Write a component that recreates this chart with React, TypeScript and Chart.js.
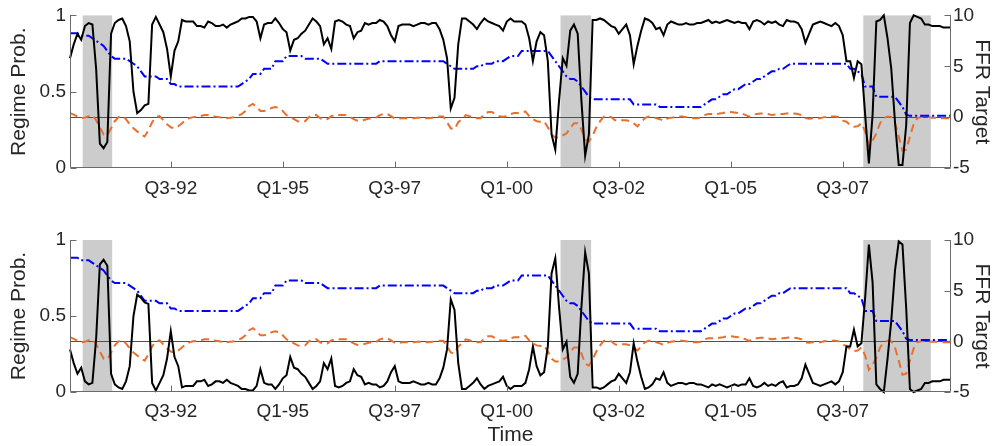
import React, { useEffect, useRef } from 'react';
import { Chart, registerables } from 'chart.js';

Chart.register(...registerables);

// Monthly observations, index 0 = April 1990, last = December 2009.

// Probability of regime 1 (upper panel)
const probRegime1 = [
  0.72, 0.81, 0.88, 0.84, 0.93, 0.95, 0.94, 0.65, 0.16, 0.13,
  0.17, 0.88, 0.95, 0.97, 0.98, 0.93, 0.83, 0.50, 0.36, 0.38,
  0.41, 0.42, 0.94, 0.99, 0.94, 0.89, 0.78, 0.60, 0.77, 0.83,
  0.97, 0.96, 0.96, 0.96, 0.93, 0.93, 0.92, 0.96, 0.95, 0.93,
  0.93, 0.94, 0.92, 0.94, 0.95, 0.96, 0.98, 0.98, 0.99, 0.99,
  0.96, 0.85, 0.94, 0.95, 0.95, 0.98, 0.95, 0.91, 0.89, 0.77,
  0.84, 0.85, 0.88, 0.90, 0.94, 0.98, 0.96, 0.93, 0.81, 0.85,
  0.78, 0.96, 0.97, 0.96, 0.94, 0.93, 0.85, 0.89, 0.90, 0.95,
  0.94, 0.95, 0.95, 0.97, 0.96, 0.93, 0.87, 0.83, 0.93, 0.94,
  0.94, 0.94, 0.93, 0.94, 0.95, 0.95, 0.94, 0.95, 0.95, 0.91,
  0.84, 0.72, 0.39, 0.46, 0.81, 0.98, 0.98, 0.96, 0.94, 0.91,
  0.95, 0.98, 0.96, 0.95, 0.94, 0.93, 0.90, 0.96, 0.98, 0.96,
  0.96, 0.96, 0.94, 0.85, 0.70, 0.83, 0.89, 0.87, 0.70, 0.22,
  0.12, 0.44, 0.72, 0.67, 0.90, 0.94, 0.88, 0.44, 0.08, 0.22,
  0.97, 0.97, 0.98, 0.97, 0.95, 0.93, 0.92, 0.88, 0.91, 0.94,
  0.87, 0.68, 0.80, 0.90, 0.98, 0.97, 0.95, 0.91, 0.92, 0.87,
  0.94, 0.96, 0.95, 0.94, 0.94, 0.95, 0.94, 0.94, 0.95, 0.95,
  0.96, 0.97, 0.95, 0.96, 0.95, 0.96, 0.97, 0.96, 0.95, 0.96,
  0.95, 0.95, 0.91, 0.96, 0.97, 0.96, 0.94, 0.96, 0.95, 0.96,
  0.94, 0.93, 0.97, 0.96, 0.96, 0.95, 0.91, 0.82, 0.88, 0.94,
  0.95, 0.96, 0.95, 0.94, 0.93, 0.95, 0.93, 0.87, 0.70, 0.70,
  0.59, 0.70, 0.68, 0.35, 0.03, 0.35, 0.96, 0.97, 1.00, 0.85,
  0.65, 0.30, 0.02, 0.02, 0.28, 0.95, 1.00, 0.99, 0.98, 0.94,
  0.94, 0.93, 0.93, 0.93, 0.92, 0.92, 0.92,
];

// Probability of regime 2 (lower panel)
const probRegime2 = [
  0.28, 0.19, 0.12, 0.16, 0.07, 0.05, 0.06, 0.35, 0.84, 0.87,
  0.83, 0.12, 0.05, 0.03, 0.02, 0.07, 0.17, 0.50, 0.64, 0.62,
  0.59, 0.58, 0.06, 0.01, 0.06, 0.11, 0.22, 0.40, 0.23, 0.17,
  0.03, 0.04, 0.04, 0.04, 0.07, 0.07, 0.08, 0.04, 0.05, 0.07,
  0.07, 0.06, 0.08, 0.06, 0.05, 0.04, 0.02, 0.02, 0.01, 0.01,
  0.04, 0.15, 0.06, 0.05, 0.05, 0.02, 0.05, 0.09, 0.11, 0.23,
  0.16, 0.15, 0.12, 0.10, 0.06, 0.02, 0.04, 0.07, 0.19, 0.15,
  0.22, 0.04, 0.03, 0.04, 0.06, 0.07, 0.15, 0.11, 0.10, 0.05,
  0.06, 0.05, 0.05, 0.03, 0.04, 0.07, 0.13, 0.17, 0.07, 0.06,
  0.06, 0.06, 0.07, 0.06, 0.05, 0.05, 0.06, 0.05, 0.05, 0.09,
  0.16, 0.28, 0.61, 0.54, 0.19, 0.02, 0.02, 0.04, 0.06, 0.09,
  0.05, 0.02, 0.04, 0.05, 0.06, 0.07, 0.10, 0.04, 0.02, 0.04,
  0.04, 0.04, 0.06, 0.15, 0.30, 0.17, 0.11, 0.13, 0.30, 0.78,
  0.88, 0.56, 0.28, 0.33, 0.10, 0.06, 0.12, 0.56, 0.92, 0.78,
  0.03, 0.03, 0.02, 0.03, 0.05, 0.07, 0.08, 0.12, 0.09, 0.06,
  0.13, 0.32, 0.20, 0.10, 0.02, 0.03, 0.05, 0.09, 0.08, 0.13,
  0.06, 0.04, 0.05, 0.06, 0.06, 0.05, 0.06, 0.06, 0.05, 0.05,
  0.04, 0.03, 0.05, 0.04, 0.05, 0.04, 0.03, 0.04, 0.05, 0.04,
  0.05, 0.05, 0.09, 0.04, 0.03, 0.04, 0.06, 0.04, 0.05, 0.04,
  0.06, 0.07, 0.03, 0.04, 0.04, 0.05, 0.09, 0.18, 0.12, 0.06,
  0.05, 0.04, 0.05, 0.06, 0.07, 0.05, 0.07, 0.13, 0.30, 0.30,
  0.41, 0.30, 0.32, 0.62, 0.97, 0.72, 0.05, 0.02, 0.00, 0.22,
  0.47, 0.80, 0.99, 0.97, 0.55, 0.02, 0.00, 0.01, 0.02, 0.06,
  0.06, 0.07, 0.07, 0.07, 0.08, 0.08, 0.08,
];

// Federal funds rate target, percent
const ffrTarget = [
  8.25, 8.25, 8.25, 8.0, 8.0, 8.0, 7.75, 7.5, 7.25, 7.0,
  6.5, 6.0, 5.75, 5.75, 5.75, 5.75, 5.5, 5.25, 5.0, 4.5,
  4.0, 4.0, 4.0, 4.0, 3.75, 3.75, 3.75, 3.25, 3.25, 3.0,
  3.0, 3.0, 3.0, 3.0, 3.0, 3.0, 3.0, 3.0, 3.0, 3.0,
  3.0, 3.0, 3.0, 3.0, 3.0, 3.0, 3.25, 3.5, 3.75, 4.25,
  4.25, 4.25, 4.75, 4.75, 4.75, 5.5, 5.5, 5.5, 6.0, 6.0,
  6.0, 6.0, 6.0, 5.75, 5.75, 5.75, 5.75, 5.75, 5.5, 5.25,
  5.25, 5.25, 5.25, 5.25, 5.25, 5.25, 5.25, 5.25, 5.25, 5.25,
  5.25, 5.25, 5.25, 5.5, 5.5, 5.5, 5.5, 5.5, 5.5, 5.5,
  5.5, 5.5, 5.5, 5.5, 5.5, 5.5, 5.5, 5.5, 5.5, 5.5,
  5.5, 5.25, 5.0, 4.75, 4.75, 4.75, 4.75, 4.75, 4.75, 5.0,
  5.0, 5.25, 5.25, 5.25, 5.5, 5.5, 5.5, 5.75, 6.0, 6.0,
  6.0, 6.5, 6.5, 6.5, 6.5, 6.5, 6.5, 6.5, 6.5, 6.0,
  5.5, 5.0, 4.5, 4.0, 3.75, 3.75, 3.5, 3.0, 2.5, 2.0,
  1.75, 1.75, 1.75, 1.75, 1.75, 1.75, 1.75, 1.75, 1.75, 1.75,
  1.75, 1.25, 1.25, 1.25, 1.25, 1.25, 1.25, 1.25, 1.0, 1.0,
  1.0, 1.0, 1.0, 1.0, 1.0, 1.0, 1.0, 1.0, 1.0, 1.0,
  1.25, 1.5, 1.75, 1.75, 2.0, 2.25, 2.25, 2.5, 2.75, 2.75,
  3.0, 3.25, 3.25, 3.5, 3.75, 3.75, 4.0, 4.25, 4.5, 4.5,
  4.75, 4.75, 5.0, 5.25, 5.25, 5.25, 5.25, 5.25, 5.25, 5.25,
  5.25, 5.25, 5.25, 5.25, 5.25, 5.25, 5.25, 5.25, 5.25, 4.75,
  4.75, 4.5, 4.25, 3.0, 3.0, 3.0, 2.0, 2.0, 2.0, 2.0,
  2.0, 2.0, 1.5, 1.0, 0.25, 0.125, 0.125, 0.125, 0.125, 0.125,
  0.125, 0.125, 0.125, 0.125, 0.125, 0.125, 0.125,
];

// Deviation of the funds rate from its rule-implied path, percentage points
const ffrDeviation = [
  0.4, 0.25, 0.05, -0.1, -0.05, 0.1, 0.2, -0.3, -1.0, -1.7,
  -1.8, -1.1, -0.4, 0.0, 0.1, -0.2, -0.7, -1.1, -1.4, -1.7,
  -1.9, -1.3, -0.5, 0.0, 0.1, -0.3, -0.7, -1.0, -1.1, -0.9,
  -0.6, -0.3, -0.1, 0.0, 0.05, 0.1, 0.2, 0.2, 0.1, 0.05,
  0.0, -0.1, -0.1, -0.05, 0.0, 0.15, 0.3, 0.6, 1.1, 1.3,
  1.0, 0.6, 0.6, 0.7, 0.9, 1.0, 0.9, 0.6, 0.2, 0.0,
  -0.2, -0.4, -0.45, -0.4, 0.0, 0.2, 0.2, -0.1, -0.25, -0.2,
  0.1, 0.2, 0.2, 0.2, 0.2, 0.0, -0.2, -0.35, -0.35, -0.25,
  -0.15, -0.1, -0.05, 0.2, 0.3, 0.3, 0.1, -0.15, -0.15, -0.1,
  -0.1, -0.1, -0.1, -0.05, -0.05, -0.1, -0.1, -0.05, 0.0, 0.05,
  0.05, -0.5, -1.1, -1.2, -0.5, -0.2, 0.2, 0.1, -0.05, -0.1,
  -0.1, 0.3, 0.5, 0.5, 0.3, 0.1, 0.05, 0.1, 0.3, 0.4,
  0.4, 0.5, 0.55, 0.1, -0.2, -0.4, -0.45, -0.4, -1.0, -1.7,
  -2.0, -2.0, -1.8, -1.6, -1.1, -0.6, -0.6, -1.2, -2.2, -2.4,
  -1.8, -1.0, -0.4, 0.05, 0.1, 0.0, -0.3, -0.35, -0.3, -0.3,
  -0.4, -0.6, -0.9, -0.5, -0.1, 0.05, 0.0, -0.1, -0.2, -0.35,
  -0.15, -0.05, 0.0, 0.05, 0.05, 0.0, -0.05, -0.1, -0.1, -0.05,
  0.2, 0.3, 0.3, 0.3, 0.35, 0.4, 0.5, 0.5, 0.45, 0.4,
  0.35, 0.2, 0.05, 0.25, 0.3, 0.35, 0.35, 0.3, 0.2, 0.25,
  0.3, 0.3, 0.35, 0.4, 0.35, 0.3, 0.2, -0.1, -0.15, -0.1,
  -0.1, -0.1, 0.0, 0.05, 0.05, 0.05, 0.0, -0.35, -0.45, -0.8,
  -0.95, -0.9, -0.6, -1.4, -2.8, -2.3, -1.6, -0.6, -0.1, 0.05,
  0.0, -0.6, -1.9, -3.3, -3.2, -1.9, -0.7, -0.1, 0.0, 0.05,
  0.0, -0.05, -0.05, -0.1, -0.1, -0.1, -0.1,
];

// Axis ticks (month index) and their labels
const tickMonths = [27, 57, 87, 117, 147, 177, 207];
const tickLabels = ['Q3-92', 'Q1-95', 'Q3-97', 'Q1-00', 'Q3-02', 'Q1-05', 'Q3-07'];

// NBER recessions, month index (fractional)
const recessionStart = [3.4, 131.4, 212.5];
const recessionEnd = [11.3, 139.6, 230.6];

const FONT = "'Liberation Sans', Arial, Helvetica, sans-serif";
const TEXT = '#262626';
const AXIS = '#6b6b6b';
const TICK_FONT = { family: FONT, size: 19, lineHeight: 1.2 };
const TITLE_FONT = { family: FONT, size: 21, lineHeight: 1 };

const toPoints = (vals: number[]) => vals.map((v, i) => ({ x: i, y: v }));

const panelDecor = {
  id: 'panelDecor',
  beforeDatasetsDraw(chart: any) {
    const { ctx, chartArea, scales } = chart;
    const { left, right, top, bottom } = chartArea;
    ctx.save();
    ctx.fillStyle = '#cccccc';
    recessionStart.forEach((s, k) => {
      const x0 = scales.x.getPixelForValue(s);
      const x1 = scales.x.getPixelForValue(recessionEnd[k]);
      ctx.fillRect(x0, top, x1 - x0, bottom - top);
    });
    const z = Math.round(scales.y2.getPixelForValue(0)) + 0.5;
    ctx.strokeStyle = '#505050';
    ctx.lineWidth = 1;
    ctx.beginPath();
    ctx.moveTo(left, z);
    ctx.lineTo(right, z);
    ctx.stroke();
    ctx.restore();
  },
  afterDatasetsDraw(chart: any) {
    const { ctx, chartArea, scales } = chart;
    const { left, right, top, bottom } = chartArea;
    const L = Math.round(left) + 0.5;
    const R = Math.round(right) - 0.5;
    const B = Math.round(bottom) - 0.5;
    const T = Math.round(top);
    const len = 6;
    ctx.save();
    ctx.strokeStyle = AXIS;
    ctx.lineWidth = 1;
    ctx.beginPath();
    ctx.moveTo(L, T);
    ctx.lineTo(L, B);
    ctx.lineTo(R, B);
    ctx.lineTo(R, T);
    tickMonths.forEach((m) => {
      const px = Math.round(scales.x.getPixelForValue(m)) + 0.5;
      ctx.moveTo(px, B);
      ctx.lineTo(px, B - len);
    });
    scales.y.ticks.forEach((t: any) => {
      const py = Math.round(scales.y.getPixelForValue(t.value)) + 0.5;
      ctx.moveTo(L, py);
      ctx.lineTo(L + len, py);
    });
    scales.y2.ticks.forEach((t: any) => {
      const py = Math.round(scales.y2.getPixelForValue(t.value)) + 0.5;
      ctx.moveTo(R, py);
      ctx.lineTo(R - len, py);
    });
    ctx.stroke();
    ctx.restore();
  },
};

function buildConfig(prob: number[], showTime: boolean, padTop: number, xAxisHeight: number, xLabelPad: number): any {
  return {
    type: 'line',
    data: {
      datasets: [
        {
          data: toPoints(prob),
          yAxisID: 'y',
          borderColor: '#000000',
          borderWidth: 2,
          pointRadius: 0,
          clip: false,
        },
        {
          data: toPoints(ffrTarget),
          yAxisID: 'y2',
          borderColor: '#0000ff',
          borderWidth: 2,
          borderDash: [9, 3, 2, 3],
          pointRadius: 0,
        },
        {
          data: toPoints(ffrDeviation),
          yAxisID: 'y2',
          borderColor: '#e5702f',
          borderWidth: 2,
          borderDash: [8, 5],
          pointRadius: 0,
        },
      ],
    },
    options: {
      animation: false,
      responsive: false,
      events: [],
      layout: { padding: { top: padTop, left: 0, right: 0, bottom: 0 } },
      plugins: { legend: { display: false }, tooltip: { enabled: false } },
      elements: { line: { tension: 0 } },
      scales: {
        x: {
          type: 'linear',
          min: 0,
          max: ffrTarget.length - 1,
          grid: { display: false, drawTicks: false },
          border: { display: false },
          afterBuildTicks: (s: any) => {
            s.ticks = tickMonths.map((v) => ({ value: v }));
          },
          afterFit: (s: any) => {
            s.height = xAxisHeight;
          },
          ticks: {
            autoSkip: false,
            maxRotation: 0,
            padding: xLabelPad,
            color: TEXT,
            font: TICK_FONT,
            callback: (v: number) => {
              const k = tickMonths.indexOf(v);
              return k >= 0 ? tickLabels[k] : '';
            },
          },
          title: {
            display: showTime,
            text: 'Time',
            color: TEXT,
            font: TITLE_FONT,
            padding: { top: 0, bottom: 0 },
          },
        },
        y: {
          position: 'left',
          min: 0,
          max: 1,
          grid: { display: false, drawTicks: false },
          border: { display: false },
          afterFit: (s: any) => {
            s.width = 70;
          },
          ticks: {
            stepSize: 0.5,
            padding: 4,
            color: TEXT,
            font: TICK_FONT,
            callback: (v: number) => String(v),
          },
          title: {
            display: true,
            text: 'Regime Prob.',
            color: TEXT,
            font: TITLE_FONT,
            padding: { top: 9, bottom: 0 },
          },
        },
        y2: {
          position: 'right',
          min: -5,
          max: 10,
          grid: { display: false, drawTicks: false },
          border: { display: false },
          afterFit: (s: any) => {
            s.width = 41;
          },
          ticks: {
            stepSize: 5,
            padding: 2,
            color: TEXT,
            font: TICK_FONT,
            callback: (v: number) => String(v),
          },
          title: {
            display: true,
            text: 'FFR Target',
            color: TEXT,
            font: TITLE_FONT,
            padding: { top: 0, bottom: 0 },
          },
        },
      },
    },
    plugins: [panelDecor],
  };
}

function Panel(props: {
  prob: number[];
  showTime: boolean;
  top: number;
  height: number;
  padTop: number;
  xAxisHeight: number;
  xLabelPad: number;
}) {
  const ref = useRef<HTMLCanvasElement | null>(null);
  const { prob, showTime, top, height, padTop, xAxisHeight, xLabelPad } = props;
  useEffect(() => {
    if (!ref.current) return;
    const chart = new Chart(ref.current, buildConfig(prob, showTime, padTop, xAxisHeight, xLabelPad));
    return () => chart.destroy();
  }, [prob, showTime, padTop, xAxisHeight, xLabelPad]);
  return (
    <canvas
      ref={ref}
      width={992}
      height={height}
      style={{ position: 'absolute', left: 0, top, width: 992, height, display: 'block' }}
    />
  );
}

export default function App() {
  return (
    <div
      style={{
        position: 'fixed',
        left: 0,
        top: 0,
        width: 992,
        height: 446,
        background: '#ffffff',
        overflow: 'hidden',
      }}
    >
      <Panel prob={probRegime1} showTime={false} top={0} height={220} padTop={15} xAxisHeight={52} xLabelPad={9} />
      <Panel prob={probRegime2} showTime={true} top={220} height={226} padTop={20} xAxisHeight={54} xLabelPad={8} />
    </div>
  );
}
